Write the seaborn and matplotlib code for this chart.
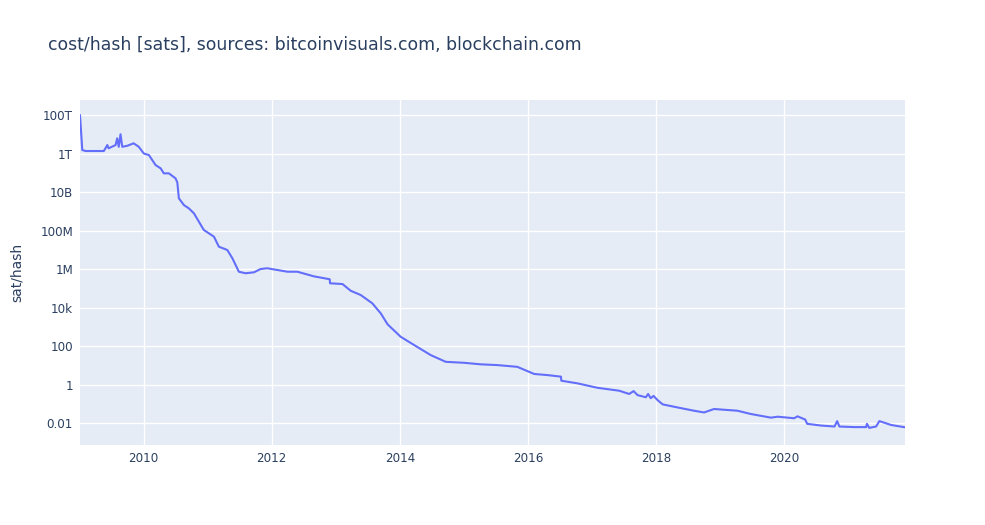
import numpy as np
import pandas as pd
import seaborn as sns
import matplotlib.pyplot as plt
import matplotlib.dates as mdates
from matplotlib.ticker import FixedLocator, FixedFormatter

# cost per hash in sats (log10 of value)
dates = [
    "2009-01-03", "2009-01-16", "2009-02-04", "2009-05-19", "2009-06-08", "2009-06-15",
    "2009-07-25", "2009-08-03", "2009-08-12", "2009-08-22", "2009-09-01", "2009-09-29",
    "2009-11-05", "2009-12-04", "2010-01-02", "2010-01-31", "2010-03-10", "2010-04-08",
    "2010-04-26", "2010-05-25", "2010-07-02", "2010-07-12", "2010-07-21", "2010-08-19",
    "2010-09-16", "2010-10-15", "2010-11-12", "2010-12-10", "2011-02-06", "2011-03-06",
    "2011-04-23", "2011-05-22", "2011-06-28", "2011-08-05", "2011-09-22", "2011-10-30",
    "2011-12-07", "2012-01-14", "2012-04-01", "2012-05-27", "2012-08-29", "2012-11-27",
    "2012-11-29", "2013-02-08", "2013-03-27", "2013-05-23", "2013-07-28", "2013-09-14",
    "2013-10-23", "2014-01-06", "2014-03-24", "2014-06-26", "2014-09-20", "2015-01-02",
    "2015-04-08", "2015-07-12", "2015-11-02", "2016-02-06", "2016-04-23", "2016-07-08",
    "2016-07-10", "2016-10-11", "2017-02-02", "2017-06-05", "2017-08-01", "2017-08-26",
    "2017-09-18", "2017-11-04", "2017-11-17", "2017-12-02", "2017-12-18", "2018-01-10",
    "2018-02-08", "2018-05-04", "2018-08-06", "2018-10-02", "2018-11-28", "2019-04-11",
    "2019-06-26", "2019-10-19", "2019-11-25", "2020-02-28", "2020-03-18", "2020-05-01",
    "2020-05-12", "2020-07-30", "2020-10-15", "2020-10-30", "2020-11-12", "2021-02-06",
    "2021-04-13", "2021-04-18", "2021-05-01", "2021-06-09", "2021-06-28", "2021-09-03",
    "2021-11-21",
]
log_cost = [
    14.0, 12.18, 12.13, 12.13, 12.44, 12.27,
    12.44, 12.79, 12.35, 13.0, 12.35, 12.4,
    12.53, 12.35, 12.0, 11.92, 11.40, 11.23,
    10.97, 10.97, 10.71, 10.50, 9.67, 9.32,
    9.15, 8.89, 8.46, 8.03, 7.68, 7.16,
    6.99, 6.56, 5.86, 5.78, 5.83, 6.0,
    6.04, 5.98, 5.86, 5.86, 5.62, 5.47,
    5.26, 5.22, 4.87, 4.65, 4.22, 3.70,
    3.13, 2.48, 2.05, 1.53, 1.18, 1.13,
    1.05, 1.01, 0.92, 0.55, 0.49, 0.41,
    0.20, 0.06, -0.17, -0.32, -0.49, -0.34,
    -0.55, -0.66, -0.49, -0.71, -0.59, -0.81,
    -1.03, -1.19, -1.36, -1.45, -1.27, -1.36,
    -1.53, -1.72, -1.67, -1.75, -1.65, -1.82,
    -2.04, -2.13, -2.18, -1.90, -2.18, -2.21,
    -2.21, -2.04, -2.25, -2.18, -1.90, -2.10,
    -2.22,
]

tick_vals = [1e14, 1e12, 1e10, 1e8, 1e6, 1e4, 1e2, 1, 1e-2]
tick_text = ["100T", "1T", "10B", "100M", "1M", "10k", "100", "1", "0.01"]

df = pd.DataFrame({"date": pd.to_datetime(dates), "cost": np.power(10.0, log_cost)})

sns.set_theme(style="darkgrid", rc={
    "axes.facecolor": "#E5ECF6",
    "grid.color": "white",
    "grid.linewidth": 1.0,
    "axes.edgecolor": "#E5ECF6",
})
plt.rcParams["font.family"] = ["DejaVu Sans"]

fig = plt.figure(figsize=(9.85, 5.25), dpi=100)
ax = fig.add_axes([80 / 985, 80 / 525, 825 / 985, 345 / 525])
sns.lineplot(data=df, x="date", y="cost", ax=ax, color="#636EFA", linewidth=1.5)

ax.set_yscale("log")
ax.set_ylim(10 ** -3.14, 10 ** 14.78)
ax.set_xlim(df["date"].iloc[0], df["date"].iloc[-1])
ax.yaxis.set_major_locator(FixedLocator(tick_vals))
ax.yaxis.set_major_formatter(FixedFormatter(tick_text))
ax.yaxis.set_minor_locator(FixedLocator([]))
ax.xaxis.set_major_locator(mdates.YearLocator(2))
ax.xaxis.set_major_formatter(mdates.DateFormatter("%Y"))
ax.tick_params(axis="both", length=0, labelsize=8.6, colors="#2a3f5f", pad=5)
for s in ax.spines.values():
    s.set_visible(False)

ax.set_xlabel("")
ax.set_ylabel("sat/hash", fontsize=10, color="#2a3f5f", labelpad=12)
fig.text(48 / 985, 1 - 45 / 525, "cost/hash [sats], sources: bitcoinvisuals.com, blockchain.com",
         fontsize=12.45, color="#2a3f5f", va="center", ha="left")

fig.savefig("out.png", dpi=100)
